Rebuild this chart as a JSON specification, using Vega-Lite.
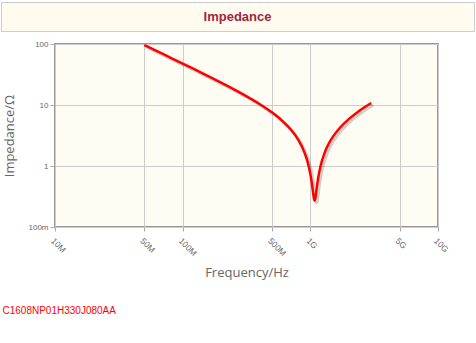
{
  "$schema": "https://vega.github.io/schema/vega-lite/v6.json",
  "background": "#ffffff",
  "padding": {"left": 0, "top": 1, "right": 3, "bottom": 0},
  "spacing": 7,
  "title": {
    "text": "C1608NP01H330J080AA",
    "orient": "bottom",
    "anchor": "start",
    "color": "#ff0000",
    "font": "Liberation Sans",
    "fontSize": 10,
    "fontWeight": "normal",
    "offset": 26,
    "dx": 2
  },
  "vconcat": [
    {
      "width": 473,
      "height": 29,
      "view": {"fill": "#fffbef", "stroke": "#cccccc", "strokeWidth": 1},
      "data": {"values": [{"t": "Impedance"}]},
      "mark": {"type": "text", "align": "center", "baseline": "middle", "font": "Liberation Sans", "fontSize": 13, "fontWeight": "bold", "color": "#a3243b"},
      "encoding": {"text": {"field": "t", "type": "nominal"}}
    },
    {
      "spacing": 0,
      "hconcat": [
        {
          "width": 1,
          "height": 183,
          "view": {"stroke": null, "fill": null},
          "data": {"values": []},
          "mark": "point",
          "encoding": {}
        },
        {
          "width": 383,
          "height": 183,
          "view": {"fill": "#fffcf3", "stroke": "#999999", "strokeWidth": 2},
          "data": {"values": [
            {"f": 5e7, "z": 96.25}, {"f": 6e7, "z": 80.13}, {"f": 7e7, "z": 68.61}, {"f": 8e7, "z": 59.96},
            {"f": 1e8, "z": 47.82}, {"f": 1.2e8, "z": 39.69}, {"f": 1.5e8, "z": 31.53}, {"f": 2e8, "z": 23.29},
            {"f": 2.5e8, "z": 18.26}, {"f": 3e8, "z": 14.84}, {"f": 4e8, "z": 10.4}, {"f": 5e8, "z": 7.58},
            {"f": 6e8, "z": 5.56}, {"f": 7e8, "z": 4.0}, {"f": 8e8, "z": 2.74}, {"f": 9e8, "z": 1.66},
            {"f": 9.5e8, "z": 1.18}, {"f": 1e9, "z": 0.74}, {"f": 1.02e9, "z": 0.578}, {"f": 1.05e9, "z": 0.369},
            {"f": 1.06e9, "z": 0.318}, {"f": 1.07e9, "z": 0.282}, {"f": 1.08e9, "z": 0.27}, {"f": 1.09e9, "z": 0.282},
            {"f": 1.1e9, "z": 0.316}, {"f": 1.11e9, "z": 0.364}, {"f": 1.13e9, "z": 0.486}, {"f": 1.15e9, "z": 0.62},
            {"f": 1.2e9, "z": 0.98}, {"f": 1.3e9, "z": 1.69}, {"f": 1.4e9, "z": 2.36}, {"f": 1.5e9, "z": 3.0},
            {"f": 1.7e9, "z": 4.2}, {"f": 2e9, "z": 5.86}, {"f": 2.3e9, "z": 7.42}, {"f": 2.6e9, "z": 8.9},
            {"f": 3e9, "z": 10.8}
          ]},
          "encoding": {
            "x": {
              "field": "f", "type": "quantitative",
              "scale": {"type": "log", "domain": [1e7, 1e10], "nice": false},
              "axis": {
                "values": [1e7, 5e7, 1e8, 5e8, 1e9, 5e9, 1e10],
                "labelExpr": "datum.value >= 1e9 ? (datum.value/1e9) + 'G' : (datum.value/1e6) + 'M'",
                "labelAngle": 45, "labelAlign": "left", "labelBaseline": "top", "labelPadding": 5,
                "labelFont": "Liberation Sans", "labelFontSize": 8.5, "labelColor": "#666666",
                "grid": true, "gridColor": "#cccccc", "domain": false,
                "ticks": true, "tickColor": "#aaaaaa", "tickSize": 4,
                "title": "Frequency/Hz", "titleFont": "Open Sans", "titleFontSize": 13, "titleFontWeight": "normal",
                "titleColor": "#666666", "titlePadding": 9
              }
            },
            "y": {
              "field": "z", "type": "quantitative",
              "scale": {"type": "log", "domain": [0.1, 100], "nice": false},
              "axis": {
                "values": [0.1, 1, 10, 100],
                "labelExpr": "datum.value < 1 ? '100m' : format(datum.value, 'd')",
                "labelFont": "Liberation Sans", "labelFontSize": 8, "labelColor": "#666666", "labelPadding": 2,
                "grid": true, "gridColor": "#cccccc", "domain": false,
                "ticks": true, "tickColor": "#aaaaaa", "tickSize": 5,
                "title": "Impedance/Ω", "titleFont": "Open Sans", "titleFontSize": 13, "titleFontWeight": "normal",
                "titleColor": "#666666", "titleX": -39
              }
            }
          },
          "layer": [
            {"mark": {"type": "line", "color": "#000000", "opacity": 0.18, "strokeWidth": 3, "xOffset": 2, "yOffset": 2, "interpolate": "monotone"}},
            {"mark": {"type": "line", "color": "#ff0000", "strokeWidth": 2.5, "interpolate": "monotone"}}
          ]
        }
      ]
    }
  ]
}
